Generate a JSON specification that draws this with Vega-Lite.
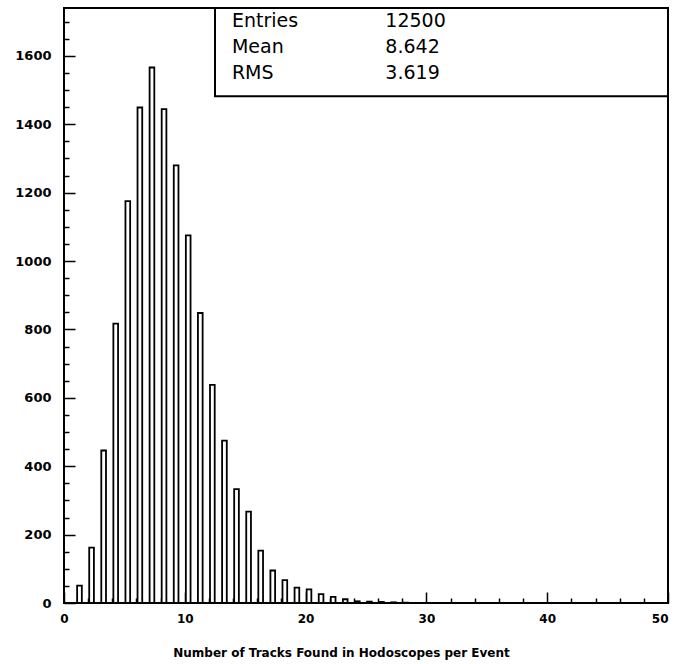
{
  "$schema": "https://vega.github.io/schema/vega-lite/v6.json",
  "width": 604,
  "height": 595,
  "autosize": "none",
  "padding": {"left": 64, "top": 8, "right": 7, "bottom": 61},
  "background": "white",
  "config": {
    "view": {"stroke": "black", "strokeWidth": 2},
    "axis": {"labelFont": "DejaVu Sans", "labelFontWeight": "bold", "labelFontSize": 12, "labelColor": "black", "titleFont": "DejaVu Sans", "titleFontWeight": "bold", "titleFontSize": 12, "titleColor": "black", "tickColor": "black", "tickWidth": 1.5, "domain": false, "grid": false, "labelOverlap": false, "labelFlush": false, "zindex": 1}
  },
  "datasets": {
    "hist": [
      {"n": 1, "count": 51}, {"n": 2, "count": 162}, {"n": 3, "count": 446}, {"n": 4, "count": 817},
      {"n": 5, "count": 1175}, {"n": 6, "count": 1449}, {"n": 7, "count": 1566}, {"n": 8, "count": 1444},
      {"n": 9, "count": 1280}, {"n": 10, "count": 1075}, {"n": 11, "count": 848}, {"n": 12, "count": 638},
      {"n": 13, "count": 475}, {"n": 14, "count": 333}, {"n": 15, "count": 267}, {"n": 16, "count": 153},
      {"n": 17, "count": 95}, {"n": 18, "count": 67}, {"n": 19, "count": 45}, {"n": 20, "count": 40},
      {"n": 21, "count": 26}, {"n": 22, "count": 18}, {"n": 23, "count": 11}, {"n": 24, "count": 5},
      {"n": 25, "count": 4}, {"n": 26, "count": 3}, {"n": 27, "count": 2}, {"n": 28, "count": 1}
    ],
    "stats": [
      {"stat": "Entries", "value": "12500"},
      {"stat": "Mean", "value": "8.642"},
      {"stat": "RMS", "value": "3.619"}
    ]
  },
  "layer": [
    {
      "layer": [
        {
          "data": {"name": "hist"},
          "mark": {"type": "bar", "width": 4.7, "xOffset": 3.4, "fill": "white", "stroke": "black", "strokeWidth": 1.8},
          "encoding": {
            "x": {
              "field": "n", "type": "quantitative",
              "scale": {"domain": [0, 50], "nice": false, "zero": false, "padding": 0},
              "axis": {
                "values": [0,2,4,6,8,10,12,14,16,18,20,22,24,26,28,30,32,34,36,38,40,42,44,46,48,50],
                "labelExpr": "datum.value % 10 === 0 ? datum.label : ''",
                "labelOverlap": false,
                "labelFlush": false,
                "labelAlign": {"condition": {"test": "datum.value === 50", "value": "right"}, "value": "center"},
                "tickSize": {"condition": {"test": "datum.value % 10 === 0", "value": -11}, "value": -5},
                "labelPadding": 21,
                "title": "Number of Tracks Found in Hodoscopes per Event",
                "titleX": 277,
                "titlePadding": 17
              }
            },
            "y": {
              "field": "count", "type": "quantitative",
              "scale": {"domain": [0, 1740], "nice": false, "padding": 0},
              "axis": {
                "values": [0,50,100,150,200,250,300,350,400,450,500,550,600,650,700,750,800,850,900,950,1000,1050,1100,1150,1200,1250,1300,1350,1400,1450,1500,1550,1600,1650,1700],
                "labelExpr": "datum.value % 200 === 0 ? datum.label : ''",
                "labelOverlap": false,
                "labelFlush": false,
                "format": "d",
                "labelFontSize": 13,
                "tickSize": {"condition": {"test": "datum.value % 200 === 0", "value": -11}, "value": -5},
                "labelPadding": 24,
                "title": null
              }
            }
          }
        },
        {
          "data": {"values": [{}]},
          "mark": {"type": "rect", "fill": "white", "stroke": "black", "strokeWidth": 2},
          "encoding": {
            "x": {"datum": 12.5, "type": "quantitative", "axis": null},
            "x2": {"datum": 50},
            "y": {"datum": 1482, "type": "quantitative", "axis": null},
            "y2": {"datum": 1740}
          }
        }
      ],
      "resolve": {"axis": {"x": "independent", "y": "independent"}}
    },
    {
      "data": {"name": "stats"},
      "encoding": {
        "y": {"field": "stat", "type": "ordinal", "scale": {"type": "point", "domain": ["Entries", "Mean", "RMS"], "range": [13, 65], "padding": 0}, "axis": null}
      },
      "layer": [
        {
          "mark": {"type": "text", "align": "left", "baseline": "middle", "font": "DejaVu Sans", "fontSize": 19, "color": "black"},
          "encoding": {"x": {"datum": 13.9, "type": "quantitative", "axis": null}, "text": {"field": "stat"}}
        },
        {
          "mark": {"type": "text", "align": "left", "baseline": "middle", "font": "DejaVu Sans", "fontSize": 19, "color": "black"},
          "encoding": {"x": {"datum": 26.6, "type": "quantitative", "axis": null}, "text": {"field": "value"}}
        }
      ]
    }
  ],
  "resolve": {"scale": {"y": "independent"}, "axis": {"x": "independent"}}
}
